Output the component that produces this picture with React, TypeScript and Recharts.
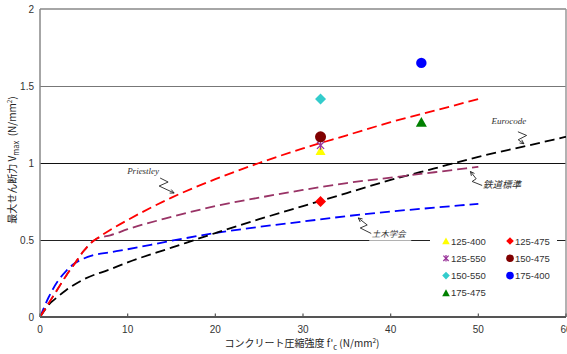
import React from 'react';
import {
  ComposedChart,
  Line,
  Scatter,
  XAxis,
  YAxis,
  ReferenceLine,
  ReferenceDot,
} from 'recharts';

// Design equations: concrete strength f'c (N/mm²) vs. shear strength Vmax (N/mm²)
const priestleyFc = [0, 1, 2, 3, 4, 5, 6, 6.5, 8, 10, 15, 20, 25, 30, 35, 40, 45, 50];
const priestleyV = [0, 0.09, 0.18, 0.27, 0.35, 0.43, 0.49, 0.51, 0.565, 0.63, 0.775, 0.895, 1.0, 1.095, 1.18, 1.265, 1.34, 1.415];

const tetsudoFc = [0, 1, 2, 3, 4, 5, 6, 6.5, 8, 10, 15, 20, 25, 30, 35, 40, 45, 50];
const tetsudoV = [0, 0.09, 0.18, 0.27, 0.35, 0.43, 0.49, 0.51, 0.53, 0.57, 0.65, 0.72, 0.775, 0.825, 0.87, 0.905, 0.94, 0.975];

const dobokuFc = [0, 1, 2, 3, 4, 5, 6, 8, 10, 15, 20, 25, 30, 35, 40, 45, 50];
const dobokuV = [0, 0.13, 0.23, 0.3, 0.35, 0.38, 0.4, 0.42, 0.44, 0.495, 0.545, 0.585, 0.62, 0.655, 0.685, 0.71, 0.735];

const eurocodeFc = [0, 1, 2, 3, 5, 8, 10, 15, 20, 25, 30, 35, 40, 45, 50, 55, 60];
const eurocodeV = [0, 0.08, 0.13, 0.175, 0.245, 0.31, 0.355, 0.45, 0.545, 0.635, 0.72, 0.805, 0.89, 0.965, 1.04, 1.105, 1.17];

// Test specimens
const specimenNames = ['125-400', '125-475', '125-550', '150-475', '150-550', '175-400', '175-475'];
const specimenFc = [32, 32, 32, 32, 32, 43.5, 43.5];
const specimenV = [1.08, 0.75, 1.115, 1.17, 1.415, 1.65, 1.265];
const specimenColors = ['#FFFF00', '#FF0000', '#993399', '#800000', '#33CCCC', '#0000FF', '#008000'];
const specimenMarkers = ['triangle', 'diamond', 'star', 'circle', 'diamond', 'circle', 'triangle'];
const specimenSizes = [5, 5.5, 4.5, 5.5, 5.5, 5.2, 5.5];

const xTicks = [0, 10, 20, 30, 40, 50, 60];
const yTicks = [0, 0.5, 1, 1.5, 2];

const W = 567;
const H = 354;
const SANS = "'Liberation Sans', Arial, 'Noto Sans CJK JP', sans-serif";
const JP = "'Noto Sans CJK JP', 'Liberation Sans', sans-serif";
const SERIF = "'Liberation Serif', 'Times New Roman', serif";
const DASH = '10 5';

const toRows = (xs: number[], ys: number[]) => xs.map((fc, i) => ({ fc, v: ys[i] }));

const priestleyData = toRows(priestleyFc, priestleyV);
const tetsudoData = toRows(tetsudoFc, tetsudoV);
const dobokuData = toRows(dobokuFc, dobokuV);
const eurocodeData = toRows(eurocodeFc, eurocodeV);

const specimenData = specimenNames.map((name, i) => ({
  name,
  fc: specimenFc[i],
  v: specimenV[i],
  color: specimenColors[i],
  kind: specimenMarkers[i],
  size: specimenSizes[i],
}));

function Marker({ kind, color, cx, cy, s }: { kind: string; color: string; cx: number; cy: number; s: number }) {
  if (kind === 'triangle') {
    return (
      <polygon
        points={`${cx},${cy - s * 0.95} ${cx + s},${cy + s * 0.85} ${cx - s},${cy + s * 0.85}`}
        fill={color}
      />
    );
  }
  if (kind === 'diamond') {
    return (
      <polygon points={`${cx},${cy - s} ${cx + s},${cy} ${cx},${cy + s} ${cx - s},${cy}`} fill={color} />
    );
  }
  if (kind === 'star') {
    const d = s * 0.8;
    return (
      <g stroke={color} strokeWidth={1.3}>
        <line x1={cx - d} y1={cy - d} x2={cx + d} y2={cy + d} />
        <line x1={cx - d} y1={cy + d} x2={cx + d} y2={cy - d} />
        <line x1={cx} y1={cy - s} x2={cx} y2={cy + s} />
      </g>
    );
  }
  return <circle cx={cx} cy={cy} r={s} fill={color} />;
}

function SpecimenShape(props: any) {
  const { cx, cy, payload } = props;
  if (cx == null || cy == null) return null;
  return <Marker kind={payload.kind} color={payload.color} cx={cx} cy={cy} s={payload.size} />;
}

function XTick(props: any) {
  const { x, y, payload } = props;
  return (
    <g>
      <line x1={x} x2={x} y1={y - 3.5} y2={y} stroke="#555" strokeWidth={1.2} />
      <text x={x} y={y + 16} textAnchor="middle" fontSize={10} fill="#333" fontFamily={SANS}>
        {payload.value}
      </text>
    </g>
  );
}

// Leader with a zig-zag stroke ending in an open arrowhead at (0,0)
function Leader({
  cx,
  cy,
  pts,
  children,
}: {
  cx: number;
  cy: number;
  pts: [number, number][];
  children?: React.ReactNode;
}) {
  const all = [...pts, [0, 0] as [number, number]];
  const d = all.map((p, i) => `${i === 0 ? 'M' : 'L'}${cx + p[0]},${cy + p[1]}`).join(' ');
  const prev = all[all.length - 2];
  const ang = Math.atan2(-prev[1], -prev[0]);
  const hl = 4.5;
  const a1 = ang + Math.PI - 0.45;
  const a2 = ang + Math.PI + 0.45;
  return (
    <g>
      {children}
      <path d={d} fill="none" stroke="#222" strokeWidth={0.9} strokeLinejoin="round" />
      <path
        d={`M${cx + Math.cos(a1) * hl},${cy + Math.sin(a1) * hl} L${cx},${cy} L${cx + Math.cos(a2) * hl},${cy + Math.sin(a2) * hl}`}
        fill="none"
        stroke="#222"
        strokeWidth={0.9}
      />
    </g>
  );
}

const PriestleyNote = (p: any) => (
  <Leader cx={p.cx} cy={p.cy} pts={[[-14, -15], [-6, -11], [-15, -7]]}>
    <text x={p.cx - 31} y={p.cy - 19} textAnchor="middle" fontSize={9} fontStyle="italic" fontFamily={SERIF} fill="#333">
      Priestley
    </text>
  </Leader>
);

const EurocodeNote = (p: any) => (
  <Leader cx={p.cx} cy={p.cy} pts={[[-6, -12], [2.7, -8.3], [-5.7, -4]]}>
    <text x={p.cx - 15} y={p.cy - 20} textAnchor="middle" fontSize={9} fontStyle="italic" fontFamily={SERIF} fill="#333">
      Eurocode
    </text>
  </Leader>
);

const TetsudoNote = (p: any) => (
  <Leader cx={p.cx} cy={p.cy} pts={[[11.7, 14], [1.7, 10], [5.7, 7.3]]}>
    <text x={p.cx + 31.5} y={p.cy + 16.5} textAnchor="middle" fontSize={9.5} fontStyle="italic" fontFamily={JP} fill="#333">
      鉄道標準
    </text>
  </Leader>
);

const DobokuNote = (p: any) => (
  <Leader cx={p.cx} cy={p.cy} pts={[[13, 15.5], [2, 10], [9, 7]]}>
    <rect x={p.cx + 11} y={p.cy + 8} width={42} height={16} fill="#fff" fillOpacity={0.65} />
    <text x={p.cx + 30.5} y={p.cy + 19} textAnchor="middle" fontSize={8.5} fontStyle="italic" fontFamily={JP} fill="#333">
      土木学会
    </text>
  </Leader>
);

export default function App() {
  return (
    <div style={{ position: 'absolute', left: 0, top: 0, width: W, height: H, background: '#fff' }}>
      <ComposedChart width={W} height={H} margin={{ top: 9, right: 1, bottom: 0, left: 0 }}>
        <XAxis
          type="number"
          dataKey="fc"
          domain={[0, 60]}
          ticks={xTicks}
          interval={0}
          height={37}
          tickSize={0}
          tickMargin={0}
          tickLine={false}
          axisLine={{ stroke: '#555', strokeWidth: 2 }}
          tick={<XTick />}
          allowDataOverflow
        />
        <YAxis
          type="number"
          dataKey="v"
          domain={[0, 2]}
          ticks={yTicks}
          interval={0}
          width={40}
          tickSize={0}
          tickMargin={6}
          tickLine={false}
          axisLine={{ stroke: '#888', strokeWidth: 1.5 }}
          tick={{ fontSize: 10, fill: '#333', fontFamily: SANS }}
          tickFormatter={(v: number) => String(v)}
          allowDataOverflow
        />
        <ReferenceLine y={2} stroke="#888" strokeWidth={1.5} />
        <ReferenceLine y={1.5} stroke="#777" strokeWidth={1} shapeRendering="crispEdges" />
        <ReferenceLine y={1} stroke="#111" strokeWidth={1} shapeRendering="crispEdges" />
        <ReferenceLine y={0.5} stroke="#222" strokeWidth={1} shapeRendering="crispEdges" />
        <ReferenceLine x={60} stroke="#999" strokeWidth={1.5} />

        <Line data={dobokuData} dataKey="v" type="monotone" stroke="#0000FF" strokeWidth={1.8} strokeDasharray={DASH} dot={false} isAnimationActive={false} />
        <Line data={eurocodeData} dataKey="v" type="monotone" stroke="#000000" strokeWidth={1.8} strokeDasharray={DASH} dot={false} isAnimationActive={false} />
        <Line data={tetsudoData} dataKey="v" type="monotone" stroke="#993366" strokeWidth={1.8} strokeDasharray={DASH} dot={false} isAnimationActive={false} />
        <Line data={priestleyData} dataKey="v" type="monotone" stroke="#FF0000" strokeWidth={1.8} strokeDasharray={DASH} dot={false} isAnimationActive={false} />

        <ReferenceDot x={15.3} y={0.805} r={0} ifOverflow="visible" shape={PriestleyNote} />
        <ReferenceDot x={55.2} y={1.125} r={0} ifOverflow="visible" shape={EurocodeNote} />
        <ReferenceDot x={49.1} y={0.945} r={0} ifOverflow="visible" shape={TetsudoNote} />
        <ReferenceDot x={36.3} y={0.643} r={0} ifOverflow="visible" shape={DobokuNote} />

        <Scatter data={specimenData} dataKey="v" shape={SpecimenShape} isAnimationActive={false} />
      </ComposedChart>

      <svg
        width={W}
        height={H}
        style={{ position: 'absolute', left: 0, top: 0, pointerEvents: 'none' }}
      >
        {/* legend */}
        <rect x={430} y={233} width={127} height={69} fill="#fff" />
        {specimenData.map((d, i) => {
          const col = i % 2;
          const row = Math.floor(i / 2);
          const mx = col === 0 ? 446 : 510;
          const my = 241 + row * 17.3;
          return (
            <g key={d.name}>
              <Marker kind={d.kind} color={d.color} cx={mx} cy={my} s={d.kind === 'star' ? 3.3 : 3.8} />
              <text x={mx + 5} y={my + 3.5} fontSize={9.5} fill="#333" fontFamily={SANS}>
                {d.name}
              </text>
            </g>
          );
        })}

        {/* axis titles */}
        <text x={302} y={347} textAnchor="middle" fontSize={10} fill="#222" fontFamily={JP}>
          コンクリート圧縮強度 f'
          <tspan dy={3} fontSize={7.5}>c</tspan>
          <tspan dy={-3}>{'\u00a0(N/mm'}</tspan>
          <tspan dy={-4} fontSize={6.5}>2</tspan>
          <tspan dy={4}>)</tspan>
        </text>
        <text transform="translate(16,160) rotate(-90)" textAnchor="middle" fontSize={10} fill="#222" fontFamily={JP}>
          最大せん断力 V
          <tspan dy={3} fontSize={7.5}>max</tspan>
          <tspan dy={-3}>{'\u00a0\u00a0(N/mm'}</tspan>
          <tspan dy={-4} fontSize={6.5}>2</tspan>
          <tspan dy={4}>)</tspan>
        </text>
      </svg>
    </div>
  );
}
